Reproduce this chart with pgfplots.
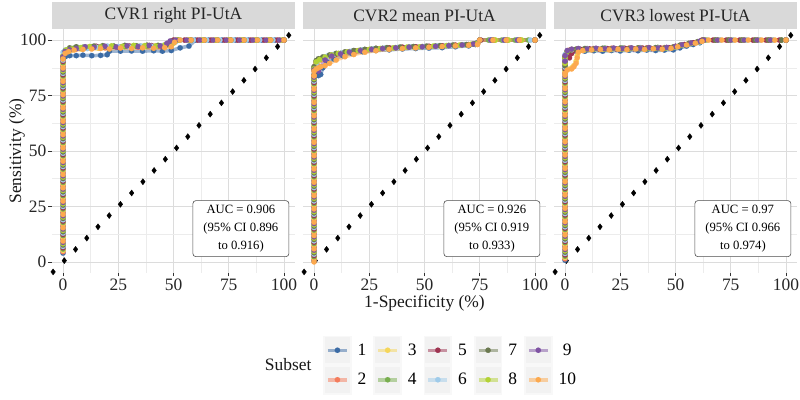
\documentclass[border=0pt]{standalone}
\usepackage{fontspec}
\setmainfont{Liberation Serif}
\usepackage{pgfplots}
\pgfplotsset{compat=1.18}
\definecolor{c1}{HTML}{3B6BA5}
\definecolor{c2}{HTML}{F47C5C}
\definecolor{c3}{HTML}{F5D65A}
\definecolor{c4}{HTML}{78AE4E}
\definecolor{c5}{HTML}{9E3451}
\definecolor{c6}{HTML}{9FCBEA}
\definecolor{c7}{HTML}{6B7950}
\definecolor{c8}{HTML}{B3D235}
\definecolor{c9}{HTML}{7F53A3}
\definecolor{c10}{HTML}{FCA94E}
\definecolor{gridmaj}{HTML}{DCDCDC}
\definecolor{gridmin}{HTML}{ECECEC}
\definecolor{stripbg}{HTML}{D9D9D9}
\definecolor{legbg}{HTML}{F2F2F2}
\newcommand{\fs}{\fontsize{17.5}{19}\selectfont}
\pgfplotsset{
  panel/.style={
    scale only axis, width=243bp, height=244bp,
    xmin=-5, xmax=105, ymin=-5, ymax=105,
    xtick={0,25,50,75,100}, ytick={0,25,50,75,100},
    minor xtick={12.5,37.5,62.5,87.5}, minor ytick={12.5,37.5,62.5,87.5},
    grid=both,
    major grid style={draw=gridmaj, line width=0.8bp},
    minor grid style={draw=gridmin, line width=0.5bp},
    axis line style={draw=none},
    tick align=outside,
    major tick length=3.5bp, minor tick length=0pt,
    tick style={draw=black!80, line width=0.6bp},
    xtick pos=left, ytick pos=left,
    /pgf/number format/assume math mode=true,
    ticklabel style={font=\fs, text=black!85},
    yticklabel style={inner xsep=2bp},
    xticklabel style={inner ysep=2.5bp},
  },
  sub/.style={color=#1, line width=3.5bp, draw opacity=0.5, mark=*, mark size=2.7bp,
    mark options={solid, fill=#1, draw=#1, draw opacity=1, fill opacity=1, line width=0.1bp}},
  diag/.style={only marks, mark=diamond*, mark size=3bp, color=black},
}
\newcommand{\diagonal}{\addplot[diag] coordinates {(-4.5,-4.5)(0.58,0.58)(5.66,5.66)(10.74,10.74)(15.82,15.82)(20.9,20.9)(25.98,25.98)(31.06,31.06)(36.14,36.14)(41.22,41.22)(46.3,46.3)(51.38,51.38)(56.46,56.46)(61.54,61.54)(66.62,66.62)(71.7,71.7)(76.78,76.78)(81.86,81.86)(86.94,86.94)(92.02,92.02)(97.1,97.1)(102.18,102.18)};}
\begin{document}
\begin{tikzpicture}
\path[use as bounding box] (0,0) rectangle (800bp,400bp);
% ---------------- Panel 1
\begin{axis}[panel, at={(52bp,127bp)}, anchor=south west]
\diagonal
\addplot[sub=c1] coordinates {(0,4)(0,10)(0,16)(0,22)(0,28)(0,34)(0,40)(0,46)(0,52)(0,58)(0,64)(0,70)(0,76)(0,82)(0,88)
(0,91)(1,92.5)(3,93)(6,93)(9,93.2)(13,93)(17,93.1)(20,93.4)(21,95)(26,95)(31,95.1)(36,95)(41,95.2)(45,95)(49,95.3)(53,96.5)(57,97.3)(60,100)(66,100)(72,100)(78,100)(84,100)(90,100)(96,100)(100,100)};
\addplot[sub=c2] coordinates {(0,4.6)(0,10.6)(0,16.6)(0,22.6)(0,28.6)(0,34.6)(0,40.6)(0,46.6)(0,52.6)(0,58.6)(0,64.6)(0,70.6)(0,76.6)(0,82.6)(0,88.6)
(0,92)(1,94.5)(3,95.5)(6,96)(10,96.4)(14,96.8)(19,96.5)(24,97)(29,97.1)(34,96.8)(39,97.2)(44,97)(48,97.5)(50,99)(52,100)(57,100)(63,100)(69,100)(75,100)(81,100)(87,100)(93,100)(100,100)};
\addplot[sub=c3] coordinates {(0,5.2)(0,11.2)(0,17.2)(0,23.2)(0,29.2)(0,35.2)(0,41.2)(0,47.2)(0,53.2)(0,59.2)(0,65.2)(0,71.2)(0,77.2)(0,83.2)(0,89.2)
(0,92)(1,95)(4,95.6)(8,96)(12,96.5)(16,96.3)(21,96.8)(27,97)(32,97.2)(37,97)(42,97.4)(46,97.6)(49,98.5)(51,100)(56,100)(62,100)(68,100)(74,100)(80,100)(86,100)(92,100)(98,100)(100,100)};
\addplot[sub=c4] coordinates {(0,5.8)(0,11.8)(0,17.8)(0,23.8)(0,29.8)(0,35.8)(0,41.8)(0,47.8)(0,53.8)(0,59.8)(0,65.8)(0,71.8)(0,77.8)(0,83.8)(0,89.8)
(0,93)(2,95.5)(5,96.3)(9,96.8)(13,97)(18,96.8)(23,97.3)(28,97.1)(33,97.5)(38,97.3)(43,97.6)(47,97.8)(49,99.5)(53,100)(58,100)(64,100)(70,100)(76,100)(82,100)(88,100)(94,100)(100,100)};
\addplot[sub=c5] coordinates {(0,6.4)(0,12.4)(0,18.4)(0,24.4)(0,30.4)(0,36.4)(0,42.4)(0,48.4)(0,54.4)(0,60.4)(0,66.4)(0,72.4)(0,78.4)(0,84.4)(0,90.4)
(0,92.5)(1.5,95)(4,95.8)(7,96.3)(11,96.6)(15,97.2)(20,97)(25,96.8)(30,97.3)(35,97.2)(40,97.5)(45,97.2)(48,98)(50,100)(55,100)(61,100)(67,100)(73,100)(79,100)(85,100)(91,100)(97,100)(100,100)};
\addplot[sub=c6] coordinates {(0,7)(0,13)(0,19)(0,25)(0,31)(0,37)(0,43)(0,49)(0,55)(0,61)(0,67)(0,73)(0,79)(0,85)(0,91)
(0,94.5)(1,95.5)(3,96.2)(7,96.5)(11,96.2)(15,96.8)(20,97.3)(25,97.1)(30,96.9)(35,97.4)(40,97.2)(45,97.5)(48,97.8)(51,99.2)(53,100)(59,100)(65,100)(71,100)(77,100)(83,100)(89,100)(95,100)(100,100)};
\addplot[sub=c7] coordinates {(0,7.6)(0,13.6)(0,19.6)(0,25.6)(0,31.6)(0,37.6)(0,43.6)(0,49.6)(0,55.6)(0,61.6)(0,67.6)(0,73.6)(0,79.6)(0,85.6)(0,91.6)
(0,92)(1,95.2)(3,96.5)(6,97)(10,96.8)(14,97.3)(18,97.5)(23,97.2)(28,97.6)(33,97.4)(38,97.7)(43,97.5)(47,98)(49,99.4)(52,100)(58,100)(64,100)(70,100)(76,100)(82,100)(88,100)(94,100)(100,100)};
\addplot[sub=c8] coordinates {(0,8.2)(0,14.2)(0,20.2)(0,26.2)(0,32.2)(0,38.2)(0,44.2)(0,50.2)(0,56.2)(0,62.2)(0,68.2)(0,74.2)(0,80.2)(0,86.2)
(0,92.8)(1.5,95.6)(4,96)(8,96.6)(12,97.1)(17,96.9)(22,97.4)(27,97.2)(32,97.6)(37,97.5)(42,97.3)(46,97.8)(50,98.6)(52,100)(57,100)(63,100)(69,100)(75,100)(81,100)(87,100)(93,100)(99,100)(100,100)};
\addplot[sub=c9] coordinates {(0,8.8)(0,14.8)(0,20.8)(0,26.8)(0,32.8)(0,38.8)(0,44.8)(0,50.8)(0,56.8)(0,62.8)(0,68.8)(0,74.8)(0,80.8)(0,86.8)
(0,92.5)(1,94.8)(3,95.6)(6,96.2)(10,97)(14,96.7)(19,97.2)(24,96.9)(29,97.4)(34,97.1)(39,97.6)(44,97.4)(47,98.5)(48.5,99.6)(51,100)(56,100)(62,100)(68,100)(74,100)(80,100)(86,100)(92,100)(98,100)(100,100)};
\addplot[sub=c10] coordinates {(0,9.4)(0,15.4)(0,21.4)(0,27.4)(0,33.4)(0,39.4)(0,45.4)(0,51.4)(0,57.4)(0,63.4)(0,69.4)(0,75.4)(0,81.4)(0,87.4)
(0,91.5)(1,94)(2.5,94.8)(5,95.5)(9,95.8)(13,96)(17,96.2)(21,96)(26,96.4)(31,96.2)(36,96.5)(41,96.3)(46,96.6)(49,97)(50.5,99)(53,100)(58,100)(64,100)(70,100)(76,100)(82,100)(88,100)(94,100)(100,100)};
\node[draw=black!70, rounded corners=3bp, fill=white, line width=0.6bp, align=center, font=\fontsize{12.7}{18}\selectfont, minimum width=96bp, minimum height=56bp, inner sep=2bp] at (axis cs:80.5,15) {AUC = 0.906\\(95\% CI 0.896\\to 0.916)};
\end{axis}
% ---------------- Panel 2
\begin{axis}[panel, at={(303bp,127bp)}, anchor=south west, yticklabels={}, ytick style={draw=none}]
\diagonal
\addplot[sub=c1] coordinates {(0,0.5)(0,6.5)(0,12.5)(0,18.5)(0,24.5)(0,30.5)(0,36.5)(0,42.5)(0,48.5)(0,54.5)(0,60.5)(0,66.5)(0,72.5)(0,78.5)
(0,81)(0,84)(1,85)(2,84)(3,84.5)(4,87.5)(6,90)(9,91.5)(13,93)(17,94)(22,94.8)(28,95.3)(34,95.6)(40,96)(46,96.2)(52,96.4)(58,96.6)(64,97)(70,97.4)(73,98)(75,100)(80,100)(86,100)(92,100)(100,100)};
\addplot[sub=c2] coordinates {(0,1.1)(0,7.1)(0,13.1)(0,19.1)(0,25.1)(0,31.1)(0,37.1)(0,43.1)(0,49.1)(0,55.1)(0,61.1)(0,67.1)(0,73.1)(0,79.1)
(0,82)(0,86)(0.5,88.5)(1.5,90)(3,91)(5,92)(8,93)(11,93.8)(15,94.5)(19,95)(24,95.6)(29,96)(34,96.3)(40,96.6)(46,96.8)(52,97)(58,97.3)(64,97.6)(70,97.9)(74,98.3)(75,100)(81,100)(87,100)(93,100)(100,100)};
\addplot[sub=c3] coordinates {(0,1.7)(0,7.7)(0,13.7)(0,19.7)(0,25.7)(0,31.7)(0,37.7)(0,43.7)(0,49.7)(0,55.7)(0,61.7)(0,67.7)(0,73.7)(0,79.7)
(0,83)(0,86.5)(1,89.5)(2,90.5)(4,91.5)(7,92.6)(10,93.5)(14,94.2)(18,94.8)(23,95.4)(28,95.8)(33,96.2)(39,96.5)(45,96.7)(51,97)(57,97.2)(63,97.5)(69,97.8)(73.5,98.2)(75,100)(82,100)(88,100)(94,100)(100,100)};
\addplot[sub=c4] coordinates {(0,2.3)(0,8.3)(0,14.3)(0,20.3)(0,26.3)(0,32.3)(0,38.3)(0,44.3)(0,50.3)(0,56.3)(0,62.3)(0,68.3)(0,74.3)(0,80.3)
(0,84)(0,87.5)(1,90.5)(2.5,91.3)(5,92.2)(8,93.2)(12,94)(16,94.8)(21,95.5)(26,96)(31,96.3)(37,96.6)(43,96.9)(49,97.1)(55,97.4)(61,97.6)(67,97.9)(72,98.2)(75,100)(79,100)(85,100)(91,100)(97,100)(100,100)};
\addplot[sub=c5] coordinates {(0,2.9)(0,8.9)(0,14.9)(0,20.9)(0,26.9)(0,32.9)(0,38.9)(0,44.9)(0,50.9)(0,56.9)(0,62.9)(0,68.9)(0,74.9)(0,80.9)
(0,83.5)(0,87)(1,90)(2,91.2)(4,92)(7,93)(10,93.7)(14,94.4)(18,95.2)(23,95.7)(28,96.2)(34,96.5)(40,96.8)(46,97)(52,97.2)(58,97.4)(64,97.7)(70,98)(74,98.4)(75.5,100)(81,100)(87,100)(93,100)(100,100)};
\addplot[sub=c6] coordinates {(0,3.5)(0,9.5)(0,15.5)(0,21.5)(0,27.5)(0,33.5)(0,39.5)(0,45.5)(0,51.5)(0,57.5)(0,63.5)(0,69.5)(0,75.5)(0,81.5)
(0,82.5)(0,86)(1,89)(2,90.8)(4,91.8)(6,92.8)(9,93.6)(13,94.3)(17,95)(22,95.6)(27,96.1)(32,96.4)(38,96.7)(44,96.9)(50,97.1)(56,97.4)(62,97.6)(68,97.9)(73,98.3)(75,100)(80,100)(86,100)(92,100)(98,100)(100,100)};
\addplot[sub=c7] coordinates {(0,4.1)(0,10.1)(0,16.1)(0,22.1)(0,28.1)(0,34.1)(0,40.1)(0,46.1)(0,52.1)(0,58.1)(0,64.1)(0,70.1)(0,76.1)(0,82.1)
(0,84.5)(0,88)(1,90.8)(2,91.6)(4,92.4)(7,93.3)(10,94)(14,94.7)(18,95.3)(23,95.8)(28,96.3)(33,96.6)(39,96.9)(45,97.1)(51,97.3)(57,97.5)(63,97.8)(69,98)(73,98.4)(75,100)(81,100)(87,100)(93,100)(100,100)};
\addplot[sub=c8] coordinates {(0,4.7)(0,10.7)(0,16.7)(0,22.7)(0,28.7)(0,34.7)(0,40.7)(0,46.7)(0,52.7)(0,58.7)(0,64.7)(0,70.7)(0,76.7)(0,82.7)
(0,83)(0,87)(1,90.2)(2.5,91.2)(5,92.3)(8,93.3)(11,94)(15,94.6)(20,95.3)(25,95.8)(30,96.2)(36,96.5)(42,96.8)(48,97)(54,97.3)(60,97.5)(66,97.8)(71,98.1)(74,98.5)(75,100)(82,100)(88,100)(94,100)(100,100)};
\addplot[sub=c9] coordinates {(0,5.3)(0,11.3)(0,17.3)(0,23.3)(0,29.3)(0,35.3)(0,41.3)(0,47.3)(0,53.3)(0,59.3)(0,65.3)(0,71.3)(0,77.3)(0,83.3)
(0,84)(0,86.5)(1,87)(2,86)(3,88)(5,91)(8,92.8)(12,93.8)(16,94.6)(21,95.3)(26,95.8)(31,96.2)(37,96.5)(43,96.8)(49,97)(55,97.2)(61,97.5)(67,97.8)(72,98.2)(75,100)(80,100)(86,100)(92,100)(100,100)};
\addplot[sub=c10] coordinates {(0,0)(0,5.9)(0,11.9)(0,17.9)(0,23.9)(0,29.9)(0,35.9)(0,41.9)(0,47.9)(0,53.9)(0,59.9)(0,65.9)(0,71.9)(0,77.9)(0,83.9)
(0,84)(0,86)(1,87)(2,87.5)(3,88)(5,88.5)(7,89.5)(10,91)(14,92.5)(18,93.5)(23,94.5)(28,95.2)(34,95.8)(40,96.2)(46,96.5)(52,96.8)(58,97.1)(64,97.4)(70,97.7)(74,98)(75,100)(81,100)(87,100)(93,100)(100,100)};
\node[draw=black!70, rounded corners=3bp, fill=white, line width=0.6bp, align=center, font=\fontsize{12.7}{18}\selectfont, minimum width=96bp, minimum height=56bp, inner sep=2bp] at (axis cs:80.5,15) {AUC = 0.926\\(95\% CI 0.919\\to 0.933)};
\end{axis}
% ---------------- Panel 3
\begin{axis}[panel, at={(554bp,127bp)}, anchor=south west, yticklabels={}, ytick style={draw=none}]
\diagonal
\addplot[sub=c1] coordinates {(0,0.8)(0,6.8)(0,12.8)(0,18.8)(0,24.8)(0,30.8)(0,36.8)(0,42.8)(0,48.8)(0,54.8)(0,60.8)(0,66.8)(0,72.8)(0,78.8)(0,84.8)
(0,88)(0,91)(1,93)(2,94.5)(5,95)(9,95)(13,95.2)(17,95)(21,95.3)(25,95.1)(29,95.4)(33,95.2)(37,95.5)(41,95.3)(45,95.5)(49,95.6)(52,96.5)(55,97.3)(58,98)(61,98.8)(64,100)(70,100)(76,100)(82,100)(88,100)(94,100)(100,100)};
\addplot[sub=c2] coordinates {(0,1.4)(0,7.4)(0,13.4)(0,19.4)(0,25.4)(0,31.4)(0,37.4)(0,43.4)(0,49.4)(0,55.4)(0,61.4)(0,67.4)(0,73.4)(0,79.4)(0,85.4)
(0,89)(0,92)(1,94.5)(2,95.5)(5,95.8)(9,96)(13,96.2)(17,96)(21,96.3)(25,96.1)(29,96.4)(33,96.2)(37,96.5)(41,96.3)(45,96.6)(49,96.8)(52,97.5)(56,98.2)(60,99)(63,100)(69,100)(75,100)(81,100)(87,100)(93,100)(100,100)};
\addplot[sub=c3] coordinates {(0,2)(0,8)(0,14)(0,20)(0,26)(0,32)(0,38)(0,44)(0,50)(0,56)(0,62)(0,68)(0,74)(0,80)
(0,86)(1,87)(3,87.5)(4,88.5)(5,90.5)(5.5,93)(6,95)(9,95.6)(13,95.8)(17,96)(21,95.8)(25,96.1)(29,96)(33,96.3)(37,96.1)(41,96.4)(45,96.3)(49,96.7)(52,97.6)(56,98.4)(60,99.2)(64,100)(70,100)(76,100)(82,100)(88,100)(94,100)(100,100)};
\addplot[sub=c4] coordinates {(0,2.6)(0,8.6)(0,14.6)(0,20.6)(0,26.6)(0,32.6)(0,38.6)(0,44.6)(0,50.6)(0,56.6)(0,62.6)(0,68.6)(0,74.6)(0,80.6)(0,86.6)
(0,90)(0,92.5)(1,95)(3,95.7)(6,96)(10,96.2)(14,96)(18,96.4)(22,96.2)(26,96.5)(30,96.3)(34,96.6)(38,96.4)(42,96.7)(46,96.5)(50,97)(53,97.8)(57,98.6)(61,99.4)(63,100)(68,100)(74,100)(80,100)(86,100)(92,100)(98,100)(100,100)};
\addplot[sub=c5] coordinates {(0,3.2)(0,9.2)(0,15.2)(0,21.2)(0,27.2)(0,33.2)(0,39.2)(0,45.2)(0,51.2)(0,57.2)(0,63.2)(0,69.2)(0,75.2)(0,81.2)(0,87.2)
(0,91)(0,92.5)(2,92)(3,94)(4,95.5)(7,95.8)(11,96.1)(15,95.9)(19,96.2)(23,96)(27,96.3)(31,96.1)(35,96.4)(39,96.2)(43,96.5)(47,96.6)(50,97.2)(54,98)(58,98.8)(62,100)(67,100)(73,100)(79,100)(85,100)(91,100)(97,100)(100,100)};
\addplot[sub=c6] coordinates {(0,3.8)(0,9.8)(0,15.8)(0,21.8)(0,27.8)(0,33.8)(0,39.8)(0,45.8)(0,51.8)(0,57.8)(0,63.8)(0,69.8)(0,75.8)(0,81.8)(0,87.8)
(0,91)(0,93.5)(1,95.2)(3,95.6)(6,95.9)(10,96.1)(14,95.9)(18,96.2)(22,96)(26,96.3)(30,96.1)(34,96.4)(38,96.2)(42,96.5)(46,96.4)(50,96.8)(53,97.6)(57,98.4)(61,99.2)(64,100)(70,100)(76,100)(82,100)(88,100)(94,100)(100,100)};
\addplot[sub=c7] coordinates {(0,4.4)(0,10.4)(0,16.4)(0,22.4)(0,28.4)(0,34.4)(0,40.4)(0,46.4)(0,52.4)(0,58.4)(0,64.4)(0,70.4)(0,76.4)(0,82.4)(0,88.4)
(0,90)(0,92)(1,94.8)(2.5,95.5)(5,95.9)(9,96.2)(13,96)(17,96.3)(21,96.1)(25,96.4)(29,96.2)(33,96.5)(37,96.3)(41,96.6)(45,96.4)(49,96.9)(52,97.7)(56,98.5)(60,99.3)(62.5,100)(68,100)(74,100)(80,100)(86,100)(92,100)(98,100)(100,100)};
\addplot[sub=c8] coordinates {(0,5)(0,11)(0,17)(0,23)(0,29)(0,35)(0,41)(0,47)(0,53)(0,59)(0,65)(0,71)(0,77)(0,83)
(0,89.5)(0,92)(1,95)(3,95.8)(6,96)(10,95.8)(14,96.1)(18,95.9)(22,96.2)(26,96)(30,96.3)(34,96.1)(38,96.4)(42,96.2)(46,96.5)(50,96.9)(53,97.7)(57,98.5)(61,99.3)(63.5,100)(69,100)(75,100)(81,100)(87,100)(93,100)(100,100)};
\addplot[sub=c9] coordinates {(0,5.6)(0,11.6)(0,17.6)(0,23.6)(0,29.6)(0,35.6)(0,41.6)(0,47.6)(0,53.6)(0,59.6)(0,65.6)(0,71.6)(0,77.6)(0,83.6)
(0,90.5)(0,93)(1,95.3)(3,95.9)(6,96.2)(10,96)(14,96.3)(18,96.1)(22,96.4)(26,96.2)(30,96.5)(34,96.3)(38,96.6)(42,96.4)(46,96.7)(50,97.1)(53,97.9)(57,98.7)(61,99.5)(63,100)(69,100)(75,100)(81,100)(87,100)(93,100)(100,100)};
\addplot[sub=c10] coordinates {(0,6.2)(0,12.2)(0,18.2)(0,24.2)(0,30.2)(0,36.2)(0,42.2)(0,48.2)(0,54.2)(0,60.2)(0,66.2)(0,72.2)(0,78.2)(0,84.2)
(0,85)(1,86.5)(3,87)(4,88)(5,89.5)(5.5,92)(6,94.5)(8,95.3)(12,95.6)(16,95.8)(20,95.6)(24,95.9)(28,95.7)(32,96)(36,95.8)(40,96.1)(44,95.9)(48,96.3)(51,97)(55,97.8)(59,98.6)(62,99.4)(65,100)(71,100)(77,100)(83,100)(89,100)(95,100)(100,100)};
\node[draw=black!70, rounded corners=3bp, fill=white, line width=0.6bp, align=center, font=\fontsize{12.7}{18}\selectfont, minimum width=96bp, minimum height=56bp, inner sep=2bp] at (axis cs:80.5,15) {AUC = 0.97\\(95\% CI 0.966\\to 0.974)};
\end{axis}
% ---------------- Legend axis
\begin{axis}[at={(0,0)}, anchor=south west, scale only axis, width=800bp, height=400bp,
  hide axis, xmin=0, xmax=1, ymin=0, ymax=1,
  legend columns=5,
  legend image code/.code={
    \fill[legbg] (0bp,-13bp) rectangle (25bp,13bp);
    \draw[mark repeat=2,mark phase=2,#1] plot coordinates {(3bp,0bp) (12.5bp,0bp) (22bp,0bp)};
  },
  legend style={at={(0.4,0.0875)}, anchor=west, draw=none, fill=none,
    font=\fs, row sep=0pt, nodes={inner sep=0pt},
    /tikz/every odd column/.append style={column sep=6bp},
    /tikz/every even column/.append style={column sep=7bp}},
]
\addlegendimage{sub=c1}\addlegendentry{1}
\addlegendimage{sub=c3}\addlegendentry{3}
\addlegendimage{sub=c5}\addlegendentry{5}
\addlegendimage{sub=c7}\addlegendentry{7}
\addlegendimage{sub=c9}\addlegendentry{9}
\addlegendimage{sub=c2}\addlegendentry{2}
\addlegendimage{sub=c4}\addlegendentry{4}
\addlegendimage{sub=c6}\addlegendentry{6}
\addlegendimage{sub=c8}\addlegendentry{8}
\addlegendimage{sub=c10}\addlegendentry{10}
\end{axis}
% ---------------- strips and titles
\fill[stripbg] (52bp,371bp) rectangle (295bp,398bp);
\fill[stripbg] (303bp,371bp) rectangle (546bp,398bp);
\fill[stripbg] (554bp,371bp) rectangle (797bp,398bp);
\node[font=\fs, text=black!85] at (173.5bp,384.5bp) {CVR1 right PI-UtA};
\node[font=\fs, text=black!85] at (424.5bp,384.5bp) {CVR2 mean PI-UtA};
\node[font=\fs, text=black!85] at (675.5bp,384.5bp) {CVR3 lowest PI-UtA};
\node[font=\fs, text=black!90, rotate=90] at (17bp,249bp) {Sensitivity (\%)};
\node[font=\fs, text=black!90] at (424.5bp,97bp) {1-Specificity (\%)};
\node[font=\fs, text=black!90, anchor=east] at (315bp,35bp) {Subset};
\end{tikzpicture}
\end{document}
